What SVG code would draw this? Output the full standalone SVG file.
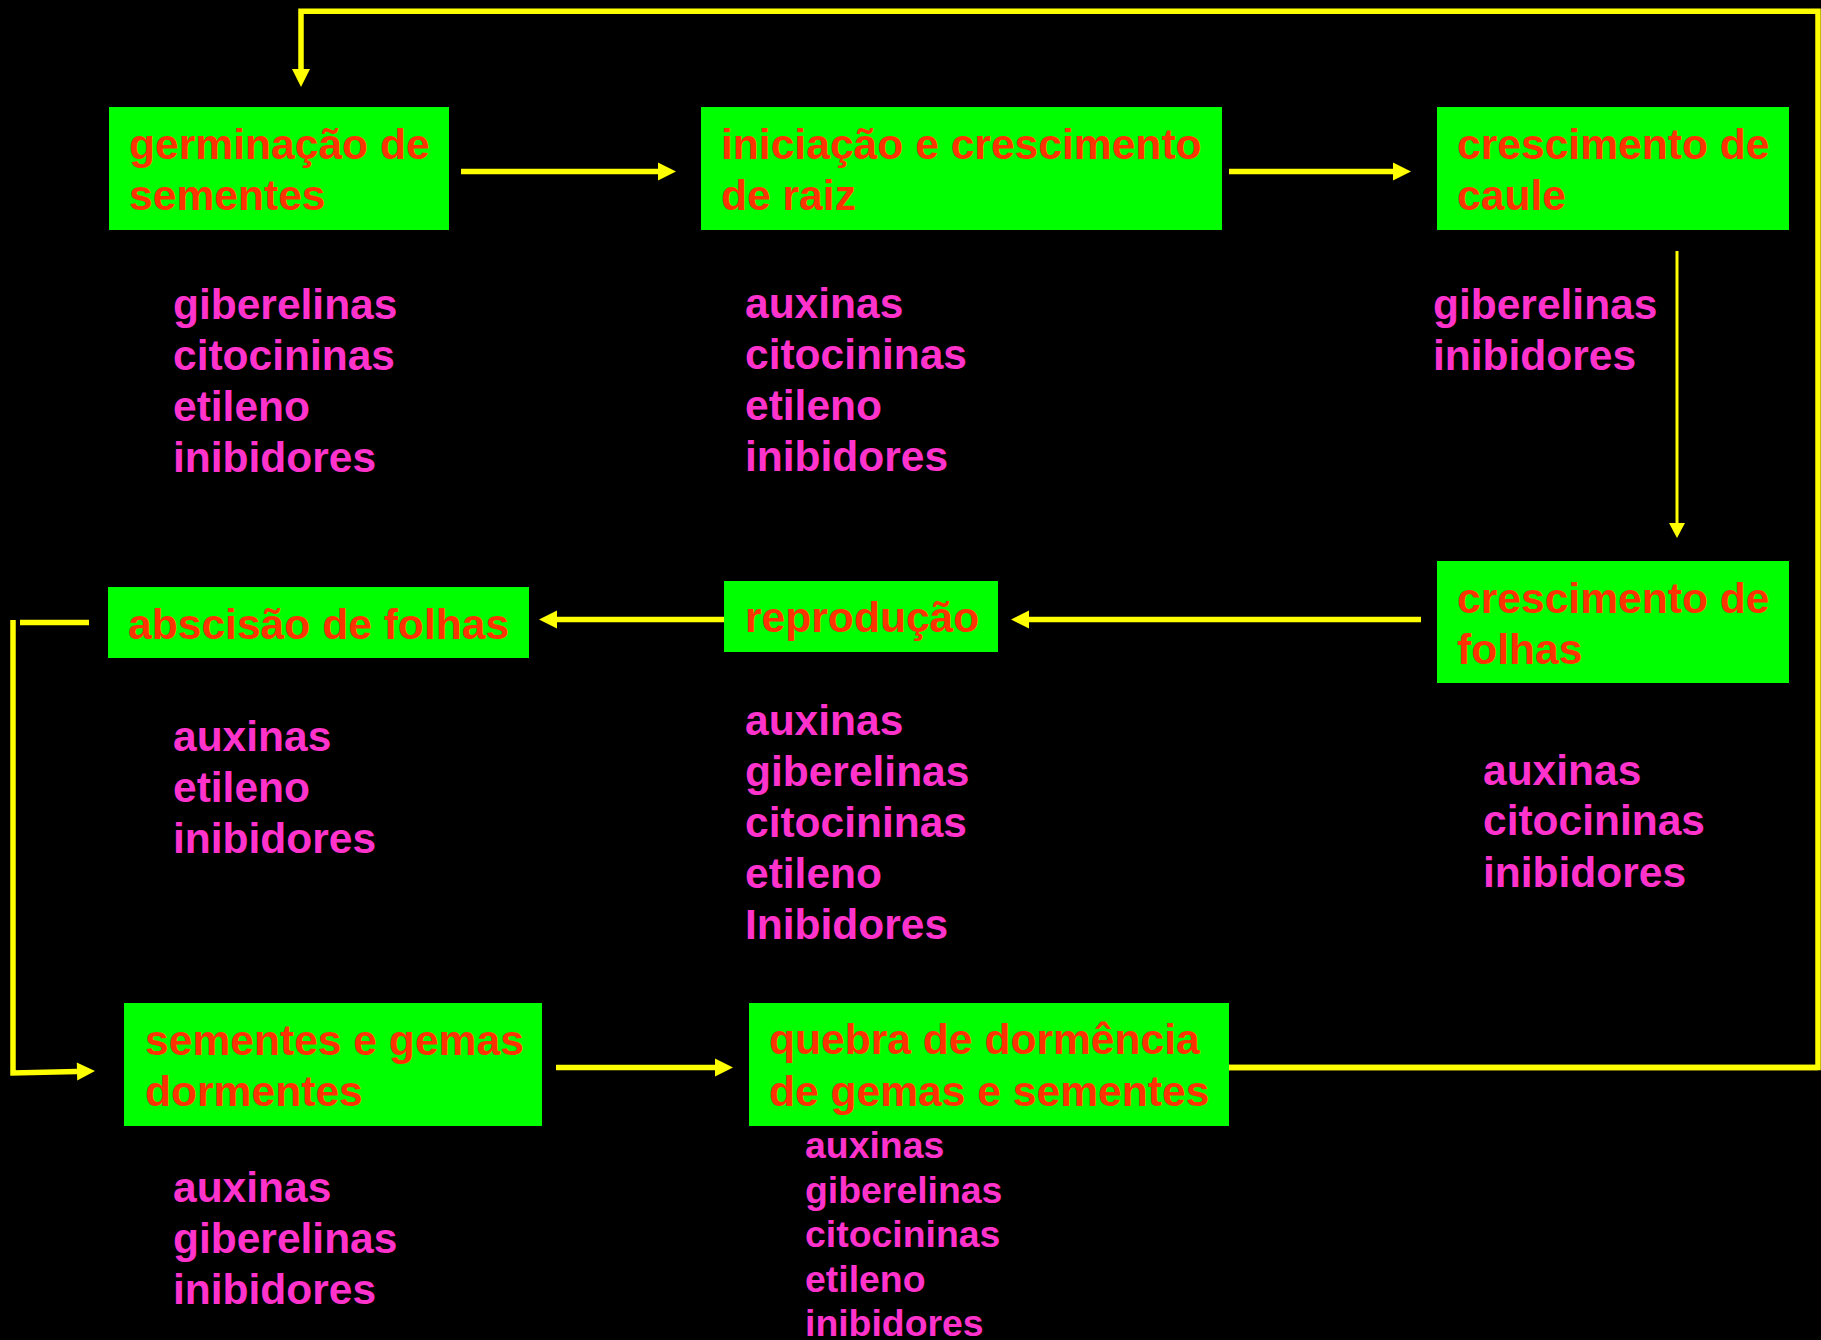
<svg xmlns="http://www.w3.org/2000/svg" width="1821" height="1340" viewBox="0 0 1821 1340">
  <style>
    .box { fill: #00FF00; }
    .title { font-family: "Liberation Sans", Arial, sans-serif; font-weight: bold; font-size: 42.6px; fill: #FF3300; }
    .hormones { font-family: "Liberation Sans", Arial, sans-serif; font-weight: bold; font-size: 42.5px; fill: #FF33CC; }
    .hormones.small { font-size: 37.4px; }
    .link { fill: none; stroke: #FFFF00; stroke-width: 5.5; }
    .link.thin { stroke-width: 3; }
  </style>
  <defs>
    <marker id="head" markerUnits="userSpaceOnUse" markerWidth="20" markerHeight="20" refX="0" refY="9" orient="auto" overflow="visible">
      <path d="M0,0 L18,9 L0,18 Z" fill="#FFFF00"/>
    </marker>
    <marker id="head-thin" markerUnits="userSpaceOnUse" markerWidth="18" markerHeight="18" refX="0" refY="8" orient="auto" overflow="visible">
      <path d="M0,0 L15,8 L0,16 Z" fill="#FFFF00"/>
    </marker>
  </defs>

  <rect x="0" y="0" width="1821" height="1340" fill="#000000"/>

  <!-- connectors -->
  <g id="connectors">
    <line class="link" x1="461" y1="171.5" x2="658" y2="171.5" marker-end="url(#head)"/>
    <line class="link" x1="1229" y1="171.5" x2="1393" y2="171.5" marker-end="url(#head)"/>
    <line class="link thin" x1="1677" y1="251" x2="1677" y2="523" marker-end="url(#head-thin)"/>
    <line class="link" x1="1421" y1="619.5" x2="1029" y2="619.5" marker-end="url(#head)"/>
    <line class="link" x1="733" y1="619.5" x2="557" y2="619.5" marker-end="url(#head)"/>
    <line class="link" x1="20" y1="622.5" x2="89" y2="622.5" stroke-width="6"/>
    <polyline class="link" points="13,620 13,1073 77,1071.5" stroke-width="6" marker-end="url(#head)"/>
    <line class="link" x1="556" y1="1067.5" x2="715" y2="1067.5" marker-end="url(#head)"/>
    <polyline class="link" points="1211,1067.5 1818,1067.5 1818,11.3 301,11.3 301,69" stroke-linejoin="miter" marker-end="url(#head)"/>
    <line class="link" x1="1211" y1="1067.5" x2="1818" y2="1067.5" stroke-width="7"/>
  </g>

  <!-- row 1 -->
  <g id="germinacao">
    <rect class="box" x="109" y="107" width="340" height="123"/>
    <text class="title"><tspan x="129" y="159">germinação de</tspan><tspan x="129" y="210">sementes</tspan></text>
    <text class="hormones"><tspan x="173" y="319">giberelinas</tspan><tspan x="173" y="370">citocininas</tspan><tspan x="173" y="421">etileno</tspan><tspan x="173" y="472">inibidores</tspan></text>
  </g>

  <g id="raiz">
    <rect class="box" x="701" y="107" width="521" height="123"/>
    <text class="title"><tspan x="721" y="159">iniciação e crescimento</tspan><tspan x="721" y="210">de raiz</tspan></text>
    <text class="hormones"><tspan x="745" y="318">auxinas</tspan><tspan x="745" y="369">citocininas</tspan><tspan x="745" y="420">etileno</tspan><tspan x="745" y="471">inibidores</tspan></text>
  </g>

  <g id="caule">
    <rect class="box" x="1437" y="107" width="352" height="123"/>
    <text class="title"><tspan x="1457" y="159">crescimento de</tspan><tspan x="1457" y="210">caule</tspan></text>
    <text class="hormones"><tspan x="1433" y="319">giberelinas</tspan><tspan x="1433" y="370">inibidores</tspan></text>
  </g>

  <!-- row 2 -->
  <g id="folhas">
    <rect class="box" x="1437" y="561" width="352" height="122"/>
    <text class="title"><tspan x="1457" y="613">crescimento de</tspan><tspan x="1457" y="664">folhas</tspan></text>
    <text class="hormones"><tspan x="1483" y="785">auxinas</tspan><tspan x="1483" y="835">citocininas</tspan><tspan x="1483" y="887">inibidores</tspan></text>
  </g>

  <g id="reproducao">
    <rect class="box" x="724" y="581" width="274" height="71"/>
    <text class="title" x="745" y="632">reprodução</text>
    <text class="hormones"><tspan x="745" y="735">auxinas</tspan><tspan x="745" y="786">giberelinas</tspan><tspan x="745" y="837">citocininas</tspan><tspan x="745" y="888">etileno</tspan><tspan x="745" y="939">Inibidores</tspan></text>
  </g>

  <g id="abscisao">
    <rect class="box" x="108" y="587" width="421" height="71"/>
    <text class="title" x="128" y="639">abscisão de folhas</text>
    <text class="hormones"><tspan x="173" y="751">auxinas</tspan><tspan x="173" y="802">etileno</tspan><tspan x="173" y="853">inibidores</tspan></text>
  </g>

  <!-- row 3 -->
  <g id="dormentes">
    <rect class="box" x="124" y="1003" width="418" height="123"/>
    <text class="title"><tspan x="145" y="1055">sementes e gemas</tspan><tspan x="145" y="1106">dormentes</tspan></text>
    <text class="hormones"><tspan x="173" y="1202">auxinas</tspan><tspan x="173" y="1253">giberelinas</tspan><tspan x="173" y="1304">inibidores</tspan></text>
  </g>

  <g id="quebra">
    <rect class="box" x="749" y="1003" width="480" height="123"/>
    <text class="title"><tspan x="769" y="1054">quebra de dormência</tspan><tspan x="769" y="1106">de gemas e sementes</tspan></text>
    <text class="hormones small"><tspan x="805" y="1158">auxinas</tspan><tspan x="805" y="1203">giberelinas</tspan><tspan x="805" y="1247">citocininas</tspan><tspan x="805" y="1292">etileno</tspan><tspan x="805" y="1336">inibidores</tspan></text>
  </g>
</svg>
